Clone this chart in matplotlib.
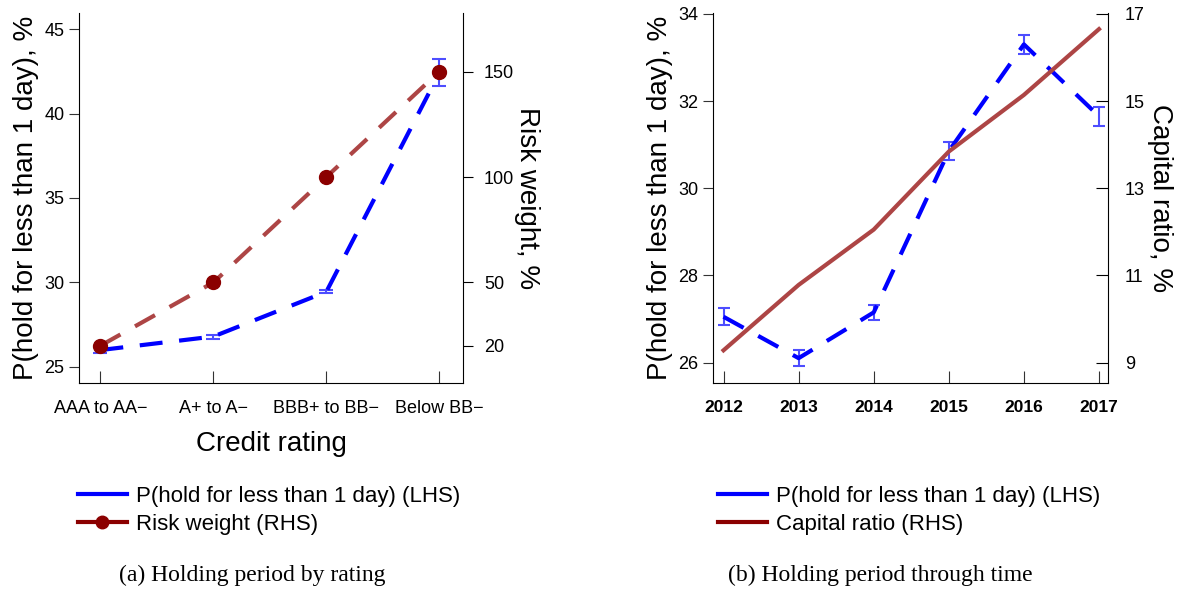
import numpy as np
import matplotlib
matplotlib.use("Agg")
import matplotlib.pyplot as plt
from matplotlib.lines import Line2D

plt.rcParams['font.family'] = ['Liberation Sans', 'DejaVu Sans']

# panel (a): holding period by rating
ratings = ['AAA to AA\u2212', 'A+ to A\u2212', 'BBB+ to BB\u2212', 'Below BB\u2212']
p_rating = [26.0, 26.8, 29.45, 42.4]
p_rating_err = [0.2, 0.12, 0.1, 0.8]
risk_weight = [20, 50, 100, 150]

# panel (b): holding period through time
years = [2012, 2013, 2014, 2015, 2016, 2017]
p_year = [27.05, 26.1, 27.15, 30.85, 33.3, 31.65]
p_year_err = [0.2, 0.18, 0.18, 0.2, 0.22, 0.22]
capital_ratio = [9.28, 10.78, 12.05, 13.84, 15.14, 16.65]

blue = '#0000ff'
red = '#8b0000'
red_line = (0.68, 0.27, 0.27)
dash = (0, (5.5, 4))

W, H = 1177, 596
fig = plt.figure(figsize=(W / 100, H / 100), dpi=100)

def box(l, t, r, b):
    return [l / W, 1 - b / H, (r - l) / W, (b - t) / H]

# ---------- left panel
ax = fig.add_axes(box(79, 13, 463, 383))
x = np.arange(len(ratings))
ax.errorbar(x, p_rating, yerr=p_rating_err, color=blue, ls=dash, lw=3,
            ecolor=(0.3, 0.3, 1.0), elinewidth=1.5, capsize=5, capthick=1.5, zorder=3)
ax.set_xlim(-0.19, 3.21)
ax.set_ylim(24.05, 45.95)
ax.set_yticks([25, 30, 35, 40, 45])
ax.set_xticks(x)
ax.set_xticklabels(ratings, fontsize=13)
ax.tick_params(axis='y', labelsize=13, direction='out', length=7, color='#333333')
ax.tick_params(axis='x', direction='in', length=9, pad=12, color='#333333')
ax.set_ylabel('P(hold for less than 1 day), %', fontsize=20, labelpad=4)
ax.set_xlabel('Credit rating', fontsize=20, labelpad=10)
ax.spines['top'].set_visible(False)
ax.spines['right'].set_visible(False)

ax2 = ax.twinx()
ax2.plot(x, risk_weight, color=red_line, ls=dash, lw=3, zorder=2)
ax2.plot(x, risk_weight, color=red, ls='none', marker='o', ms=10, zorder=4)
ax2.set_ylim(2.3, 177.8)
ax2.set_yticks([20, 50, 100, 150])
ax2.tick_params(axis='y', labelsize=13, direction='out', length=7, pad=8)
ax2.set_ylabel('Risk weight, %', fontsize=20, rotation=270, va='center', ha='center')
ax2.yaxis.set_label_coords((527 - 79) / 384, 0.5)
ax2.spines['top'].set_visible(False)
ax2.spines['left'].set_visible(False)
ax2.spines['bottom'].set_visible(False)

# ---------- right panel
bx = fig.add_axes(box(713, 13, 1108, 383))
bx.errorbar(years, p_year, yerr=p_year_err, color=blue, ls=dash, lw=3,
            ecolor=(0.3, 0.3, 1.0), elinewidth=1.5, capsize=4, capthick=1.5, zorder=3)
bx.set_xlim(2011.86, 2017.12)
bx.set_ylim(25.53, 34.02)
bx.set_yticks([26, 28, 30, 32, 34])
bx.set_xticks(years)
bx.set_xticklabels([str(y) for y in years], fontsize=12.5, fontweight='bold')
bx.tick_params(axis='y', labelsize=13, direction='out', length=7, color='#333333')
bx.tick_params(axis='x', direction='in', length=9, pad=12, color='#333333')
bx.set_ylabel('P(hold for less than 1 day), %', fontsize=20, labelpad=4)
bx.spines['top'].set_visible(False)
bx.spines['right'].set_visible(False)

bx2 = bx.twinx()
bx2.plot(years, capital_ratio, color=red_line, lw=3, zorder=2)
bx2.set_ylim(8.53, 17.02)
bx2.set_yticks([9, 11, 13, 15, 17])
bx2.tick_params(axis='y', labelsize=13, direction='in', length=9, pad=12)
bx2.set_ylabel('Capital ratio, %', fontsize=20, rotation=270, va='center', ha='center')
bx2.yaxis.set_label_coords((1160 - 713) / 395, 0.5)
bx2.spines['top'].set_visible(False)
bx2.spines['left'].set_visible(False)
bx2.spines['bottom'].set_visible(False)

# ---------- legends
h_p = Line2D([], [], color=blue, lw=3)
h_rw = Line2D([], [], color=red, lw=3, marker='o', ms=9)
h_cr = Line2D([], [], color=red, lw=3)
fig.legend([h_p, h_rw], ['P(hold for less than 1 day) (LHS)', 'Risk weight (RHS)'],
           loc='upper left', bbox_to_anchor=(58 / W, 1 - 466 / H), frameon=False,
           fontsize=16, handlelength=2.2, labelspacing=0.3, handletextpad=0.4)
fig.legend([h_p, h_cr], ['P(hold for less than 1 day) (LHS)', 'Capital ratio (RHS)'],
           loc='upper left', bbox_to_anchor=(698 / W, 1 - 466 / H), frameon=False,
           fontsize=16, handlelength=2.2, labelspacing=0.3, handletextpad=0.4)

# ---------- captions
fig.text(252 / W, 1 - 575 / H, '(a) Holding period by rating', ha='center', va='center',
         fontsize=17, family=['Liberation Serif', 'DejaVu Serif'])
fig.text(880 / W, 1 - 575 / H, '(b) Holding period through time', ha='center', va='center',
         fontsize=17, family=['Liberation Serif', 'DejaVu Serif'])

fig.savefig('out.png', dpi=100)
